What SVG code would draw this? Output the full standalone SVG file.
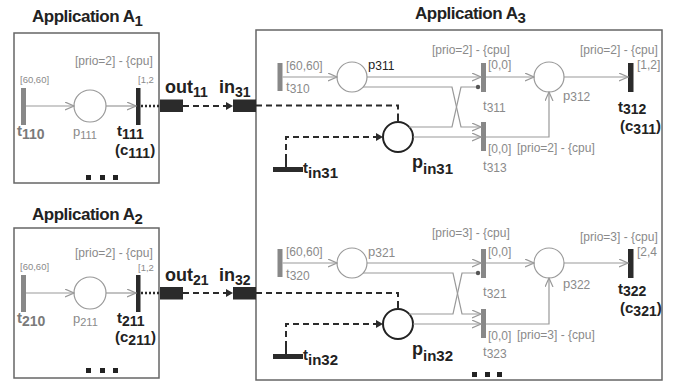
<svg xmlns="http://www.w3.org/2000/svg" width="677" height="387" viewBox="0 0 677 387">
<defs>
<style>
text{font-family:"Liberation Sans",Arial,sans-serif}
.title{font-size:17px;font-weight:bold;fill:#222;letter-spacing:-0.5px}
.box{fill:#fff;stroke:#666;stroke-width:1.5}
.gbar{fill:#888}
.dbar{fill:#2b2b2b}
.pl{fill:#fff;stroke:#999;stroke-width:1.2}
.pin{fill:#fff;stroke:#222;stroke-width:2}
.ann{font-size:12px;fill:#8a8a8a}
.tiny{font-size:9.5px;fill:#8a8a8a}
.gl{font-size:13px;fill:#8a8a8a}
.gb{font-size:15px;font-weight:bold;fill:#7a7a7a}
.bl{font-size:15px;font-weight:bold;fill:#222}
.big{font-size:18px;font-weight:bold;fill:#222}
.blk{font-size:13px;fill:#222}
.arc{fill:none;stroke:#999;stroke-width:1.2;marker-end:url(#open)}
.arcd{fill:none;stroke:#999;stroke-width:1.2;marker-end:url(#dot)}
.dash{fill:none;stroke:#2b2b2b;stroke-width:2;stroke-dasharray:6 4}
.dasha{fill:none;stroke:#2b2b2b;stroke-width:2;stroke-dasharray:6 4;marker-end:url(#fill)}
.dot{fill:none;stroke:#2b2b2b;stroke-width:2.5;stroke-dasharray:2 2}
.tick{stroke:#2b2b2b;stroke-width:2}
.sq{fill:#222}
.io{fill:#2b2b2b}
</style>
<marker id="open" markerUnits="userSpaceOnUse" markerWidth="10" markerHeight="10" refX="9" refY="4.5" orient="auto">
<path d="M0,0.5 L9,4.5 L0,8.5" fill="none" stroke="#999" stroke-width="1.2"/>
</marker>
<marker id="fill" markerUnits="userSpaceOnUse" markerWidth="9" markerHeight="9" refX="7" refY="4" orient="auto">
<path d="M0,0 L7,4 L0,8 z" fill="#2b2b2b"/>
</marker>
<marker id="dot" markerUnits="userSpaceOnUse" markerWidth="6" markerHeight="6" refX="3" refY="3" orient="auto">
<circle cx="3" cy="3" r="2.2" fill="#555"/>
</marker>
</defs>

<!-- Application A1 -->
<g id="appA1">
<text class="title" x="32" y="22">Application A<tspan dy="4" font-size="15">1</tspan></text>
<rect class="box" x="14" y="33" width="145" height="150"/>
<text class="ann" x="75" y="65">[prio=2] - {cpu]</text>
<rect class="sq" x="86" y="175" width="5" height="5"/>
<rect class="sq" x="100" y="175" width="5" height="5"/>
<rect class="sq" x="113" y="175" width="5" height="5"/>
</g>
<g id="t110">
<rect class="gbar" x="21" y="88" width="5" height="37"/>
<text class="tiny" x="20" y="83">[60,60]</text>
<text class="gb" x="17" y="136">t<tspan dy="3" font-size="14">110</tspan></text>
</g>
<g id="p111">
<circle class="pl" cx="90" cy="106" r="16"/>
<text class="gl" x="73" y="136">p<tspan dy="3" font-size="11">111</tspan></text>
</g>
<g id="t111">
<rect class="dbar" x="136" y="88" width="4.5" height="37"/>
<text class="tiny" x="138" y="83">[1,2</text>
<text class="bl" x="117" y="136">t<tspan dy="3" font-size="14">111</tspan></text>
<text class="bl" x="115" y="155">(c<tspan dy="3" font-size="14">111</tspan><tspan dy="-3">)</tspan></text>
</g>
<g id="out11">
<rect class="io" x="160" y="99.5" width="23" height="12.5"/>
<text class="big" x="165" y="93">out<tspan dy="4" font-size="14">11</tspan></text>
</g>

<!-- Application A2 -->
<g id="appA2">
<text class="title" x="32" y="220">Application A<tspan dy="4" font-size="15">2</tspan></text>
<rect class="box" x="14" y="228" width="145" height="150"/>
<text class="ann" x="75" y="257">[prio=2] - {cpu]</text>
<rect class="sq" x="86" y="368" width="5" height="5"/>
<rect class="sq" x="100" y="368" width="5" height="5"/>
<rect class="sq" x="113" y="368" width="5" height="5"/>
</g>
<g id="t210">
<rect class="gbar" x="21" y="275" width="5" height="37"/>
<text class="tiny" x="20" y="270">[60,60]</text>
<text class="gb" x="17" y="323">t<tspan dy="3" font-size="14">210</tspan></text>
</g>
<g id="p211">
<circle class="pl" cx="90" cy="293" r="16"/>
<text class="gl" x="73" y="323">p<tspan dy="3" font-size="11">211</tspan></text>
</g>
<g id="t211">
<rect class="dbar" x="136" y="275" width="4.5" height="37"/>
<text class="tiny" x="138" y="271">[1,2</text>
<text class="bl" x="117" y="323">t<tspan dy="3" font-size="14">211</tspan></text>
<text class="bl" x="115" y="342">(c<tspan dy="3" font-size="14">211</tspan><tspan dy="-3">)</tspan></text>
</g>
<g id="out21">
<rect class="io" x="160" y="287" width="23" height="12.5"/>
<text class="big" x="165" y="281">out<tspan dy="4" font-size="14">21</tspan></text>
</g>

<!-- Application A3 -->
<g id="appA3">
<text class="title" x="415" y="19">Application A<tspan dy="4" font-size="15">3</tspan></text>
<rect class="box" x="256" y="30" width="406" height="350"/>
<rect class="sq" x="472" y="372" width="5" height="5"/>
<rect class="sq" x="485" y="372" width="5" height="5"/>
<rect class="sq" x="497" y="372" width="5" height="5"/>
</g>
<g id="in31">
<rect class="io" x="233" y="99.5" width="23" height="12.5"/>
<text class="big" x="219" y="93">in<tspan dy="4" font-size="14">31</tspan></text>
</g>
<g id="in32">
<rect class="io" x="233" y="287" width="23" height="12.5"/>
<text class="big" x="219" y="281">in<tspan dy="4" font-size="14">32</tspan></text>
</g>

<!-- top net A3 -->
<g id="t310">
<rect class="gbar" x="277.5" y="63" width="5" height="28"/>
<text class="ann" x="286" y="70">[60,60]</text>
<text class="gl" x="286" y="91">t<tspan dy="2" font-size="12">310</tspan></text>
</g>
<g id="p311">
<circle class="pl" cx="352" cy="77" r="15"/>
<text class="blk" x="368" y="69">p<tspan dy="1" font-size="12">311</tspan></text>
</g>
<g id="pin31">
<circle class="pin" cx="398" cy="137" r="15"/>
<text class="big" x="412" y="168" font-size="17">p<tspan dy="6" font-size="15">in31</tspan></text>
</g>
<g id="tin31">
<rect class="dbar" x="273" y="167" width="30" height="5"/>
<text class="bl" x="303" y="173">t<tspan dy="5" font-size="15">in31</tspan></text>
</g>
<g id="t311">
<rect class="gbar" x="481" y="63" width="5" height="29"/>
<text class="ann" x="432" y="54">[prio=2] - {cpu]</text>
<text class="ann" x="488" y="69">[0,0]</text>
<text class="gl" x="483" y="110">t<tspan dy="2" font-size="12">311</tspan></text>
</g>
<g id="t313">
<rect class="gbar" x="481" y="122" width="5" height="29"/>
<text class="ann" x="488" y="153">[0,0]</text>
<text class="ann" x="517" y="152">[prio=2] - {cpu]</text>
<text class="gl" x="483" y="170">t<tspan dy="2" font-size="12">313</tspan></text>
</g>
<g id="p312">
<circle class="pl" cx="549" cy="77" r="15"/>
<text class="gl" x="563" y="100">p<tspan dy="1" font-size="12">312</tspan></text>
</g>
<g id="t312">
<rect class="dbar" x="628" y="63" width="5.5" height="29"/>
<text class="ann" x="580" y="54">[prio=2] - {cpu]</text>
<text class="ann" x="637" y="69">[1,2]</text>
<text class="bl" x="618" y="112">t<tspan dy="2" font-size="14">312</tspan></text>
<text class="bl" x="620" y="131">(c<tspan dy="3" font-size="14">311</tspan><tspan dy="-3">)</tspan></text>
</g>

<!-- bottom net A3 -->
<g id="t320">
<rect class="gbar" x="277.5" y="249" width="5" height="28"/>
<text class="ann" x="286" y="256">[60,60]</text>
<text class="gl" x="286" y="278">t<tspan dy="2" font-size="12">320</tspan></text>
</g>
<g id="p321">
<circle class="pl" cx="352" cy="263" r="15"/>
<text class="gl" x="368" y="256">p<tspan dy="1" font-size="12">321</tspan></text>
</g>
<g id="pin32">
<circle class="pin" cx="398" cy="324" r="15"/>
<text class="big" x="412" y="355" font-size="17">p<tspan dy="6" font-size="15">in32</tspan></text>
</g>
<g id="tin32">
<rect class="dbar" x="273" y="354" width="30" height="5"/>
<text class="bl" x="303" y="360">t<tspan dy="5" font-size="15">in32</tspan></text>
</g>
<g id="t321">
<rect class="gbar" x="481" y="249" width="5" height="29"/>
<text class="ann" x="432" y="237">[prio=3] - {cpu]</text>
<text class="ann" x="488" y="256">[0,0]</text>
<text class="gl" x="483" y="296">t<tspan dy="2" font-size="12">321</tspan></text>
</g>
<g id="t323">
<rect class="gbar" x="481" y="309" width="5" height="29"/>
<text class="ann" x="488" y="340">[0,0]</text>
<text class="ann" x="517" y="339">[prio=3] - {cpu]</text>
<text class="gl" x="483" y="356">t<tspan dy="2" font-size="12">323</tspan></text>
</g>
<g id="p322">
<circle class="pl" cx="549" cy="263" r="15"/>
<text class="gl" x="563" y="288">p<tspan dy="1" font-size="12">322</tspan></text>
</g>
<g id="t322">
<rect class="dbar" x="628" y="249" width="5.5" height="29"/>
<text class="ann" x="580" y="241">[prio=3] - {cpu]</text>
<text class="ann" x="637" y="256">[2,4</text>
<text class="bl" x="618" y="294">t<tspan dy="2" font-size="14">322</tspan></text>
<text class="bl" x="620" y="313">(c<tspan dy="3" font-size="14">321</tspan><tspan dy="-3">)</tspan></text>
</g>

<!-- connectors -->
<g id="connectors">
<line class="arc" x1="26" y1="106" x2="74" y2="106"/>
<line class="arc" x1="106" y1="106" x2="136" y2="106"/>
<line class="dot" x1="141" y1="106" x2="160" y2="106"/>
<line class="dasha" x1="183" y1="106" x2="233" y2="106"/>
<line class="arc" x1="26" y1="293" x2="74" y2="293"/>
<line class="arc" x1="106" y1="293" x2="136" y2="293"/>
<line class="dot" x1="141" y1="293" x2="160" y2="293"/>
<line class="dasha" x1="183" y1="293" x2="233" y2="293"/>

<line class="arc" x1="282.5" y1="77" x2="337" y2="77"/>
<line class="arc" x1="367" y1="77" x2="481" y2="77"/>
<path class="arc" d="M363,87 H452 L461,127 H481"/>
<path class="arcd" d="M409,127 H452 L461,87 H478"/>
<line class="arc" x1="413" y1="137" x2="481" y2="137"/>
<line class="arc" x1="486" y1="77" x2="534" y2="77"/>
<path class="arc" d="M486,137 H549 V92"/>
<line class="arc" x1="564" y1="77" x2="628" y2="77"/>
<path class="dash" d="M256,105.5 H398 V116"/>
<line class="tick" x1="398" y1="116" x2="398" y2="122"/>
<line class="tick" x1="286" y1="167" x2="286" y2="160"/>
<path class="dasha" d="M286,160 V137 H383"/>

<line class="arc" x1="282.5" y1="263" x2="337" y2="263"/>
<line class="arc" x1="367" y1="263" x2="481" y2="263"/>
<path class="arc" d="M363,273 H453 L462,314 H481"/>
<path class="arcd" d="M409,314 H453 L462,273 H478"/>
<line class="arc" x1="413" y1="324" x2="481" y2="324"/>
<line class="arc" x1="486" y1="263" x2="534" y2="263"/>
<path class="arc" d="M486,324 H549 V278"/>
<line class="arc" x1="564" y1="263" x2="628" y2="263"/>
<path class="dash" d="M256,293 H398 V303"/>
<line class="tick" x1="398" y1="303" x2="398" y2="309"/>
<line class="tick" x1="286" y1="354" x2="286" y2="347"/>
<path class="dasha" d="M286,347 V324 H383"/>
</g>
</svg>
